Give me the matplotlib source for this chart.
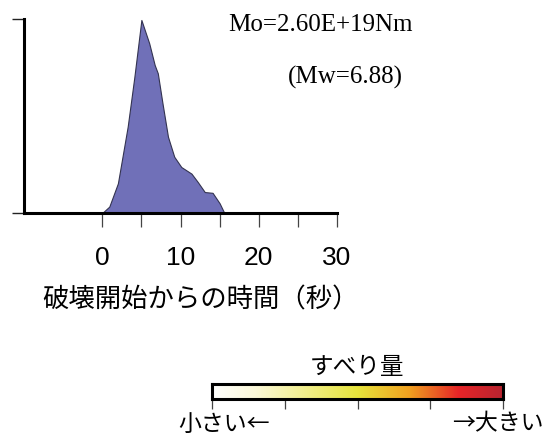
import numpy as np
import matplotlib.pyplot as plt
from matplotlib.colors import LinearSegmentedColormap

# Moment rate function (normalised), time in seconds since rupture start
t = [0.0, 0.9, 2.0, 3.25, 4.1, 5.0, 6.0, 6.7, 7.1, 7.7, 8.4, 9.2, 10.1,
     11.4, 12.2, 13.1, 14.1, 15.0, 15.6]
rate = [0.0, 0.033, 0.153, 0.445, 0.70, 0.995, 0.875, 0.763, 0.72, 0.565,
        0.393, 0.29, 0.237, 0.203, 0.16, 0.108, 0.104, 0.05, 0.0]

mo_text = 'Mo=2.60E+19Nm'
mw_text = '(Mw=6.88)'
xlabel = '破壊開始からの時間（秒）'
cbar_title = 'すべり量'
cbar_low = '小さい←'
cbar_high = '→大きい'

# slip colour scale
slip_colors = ['#ffffff', '#fbf8d8', '#e6e43c', '#f0a020', '#e52428', '#b82430']
slip_pos = [0.0, 0.15, 0.5, 0.68, 0.85, 1.0]

W, H = 547, 436
fig = plt.figure(figsize=(W / 100, H / 100), dpi=100)
jp = ['Noto Sans CJK JP', 'DejaVu Sans']

# =============================================================================
# Moment rate function
# =============================================================================
ax = fig.add_axes([24 / W, 1 - 213 / H, 313 / W, 194 / H])
ax.fill_between(t, rate, color='#7070b8', edgecolor='#333350', lw=0.8)
ax.set_xlim(-10, 30)
ax.set_ylim(0, 1)
for s in ['top', 'right']:
    ax.spines[s].set_visible(False)
for s in ['left', 'bottom']:
    ax.spines[s].set_linewidth(2.2)
ax.set_xticks([0, 10, 20, 30])
ax.set_xticks([5, 15, 25], minor=True)
ax.set_xticklabels(['0', '10', '20', '30'], fontsize=19, family='Liberation Sans')
ax.tick_params(axis='x', which='both', length=10, width=0.9, color='#444444',
               pad=14, direction='out')
ax.set_yticks([0, 1])
ax.set_yticklabels([])
ax.tick_params(axis='y', length=9, width=1.0, color='#222222')

fig.text(42 / W, 1 - 300 / H, xlabel, fontsize=19, family=jp,
         ha='left', va='center')

fig.text(228 / W, 1 - 25 / H, mo_text, fontsize=18, family='Liberation Serif',
         va='center', ha='left')
fig.text(288 / W, 1 - 77 / H, mw_text, fontsize=18, family='Liberation Serif',
         va='center', ha='left')

# =============================================================================
# Colour bar
# =============================================================================
cmap = LinearSegmentedColormap.from_list('slip', list(zip(slip_pos, slip_colors)))
cax = fig.add_axes([212 / W, 1 - 399 / H, 291 / W, 15 / H])
grad = np.linspace(0, 1, 256).reshape(1, -1)
cax.imshow(grad, aspect='auto', cmap=cmap, extent=[0, 1, 0, 1])
cax.set_xlim(0, 1)
cax.set_ylim(0, 1)
for s in cax.spines.values():
    s.set_linewidth(2.2)
cax.set_yticks([])
cax.set_xticks([0, 0.25, 0.5, 0.75, 1.0])
cax.set_xticklabels([])
cax.tick_params(axis='x', length=7, width=0.9, color='#444444')

fig.text(357 / W, 1 - 367 / H, cbar_title, fontsize=17, family=jp,
         ha='center', va='center')
fig.text(178 / W, 1 - 424 / H, cbar_low, fontsize=16.5, family=jp,
         ha='left', va='center')
fig.text(544 / W, 1 - 424 / H, cbar_high, fontsize=16.5, family=jp,
         ha='right', va='center')

fig.savefig('out.png', dpi=100)
